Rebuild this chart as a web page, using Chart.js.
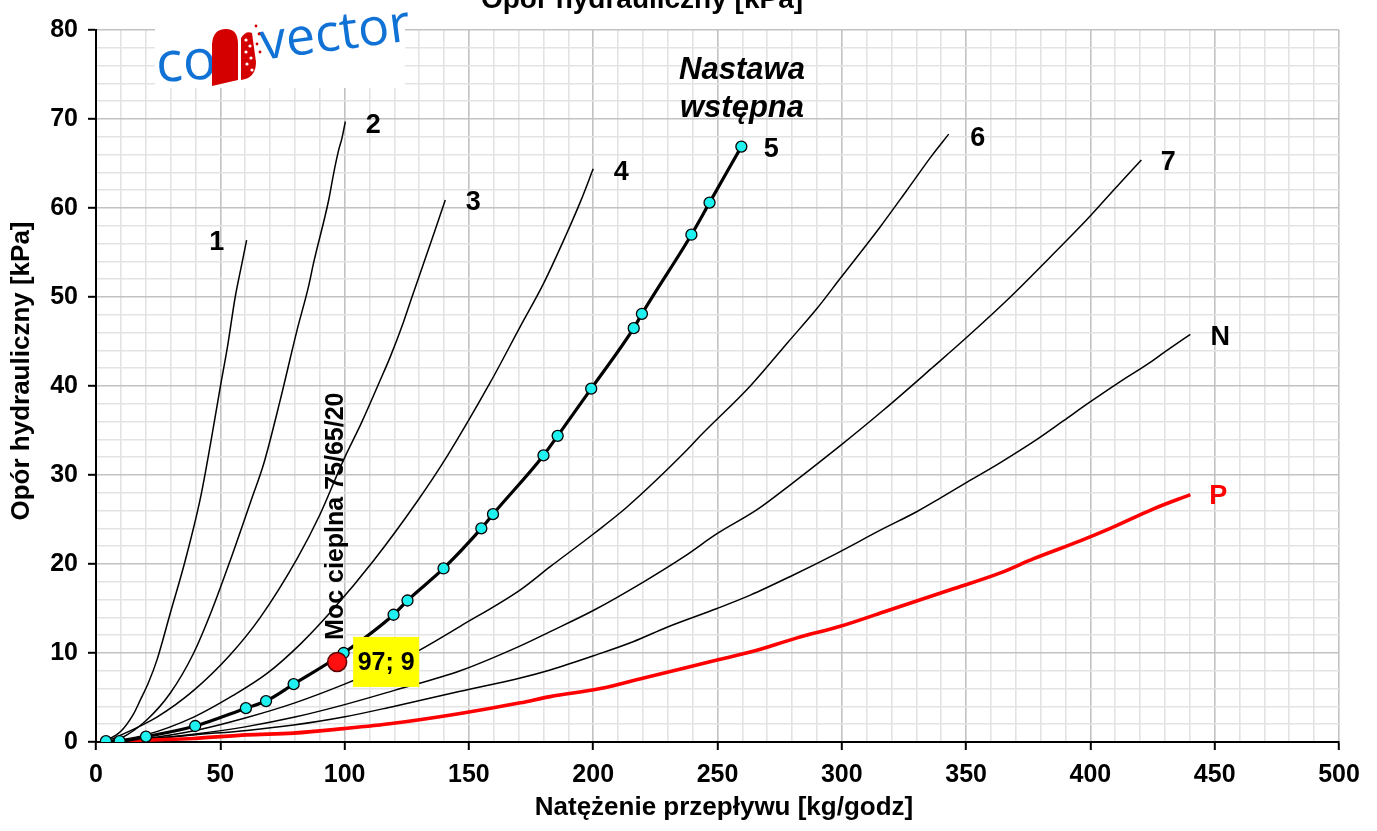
<!DOCTYPE html>
<html>
<head>
<meta charset="utf-8">
<script src="https://cdn.jsdelivr.net/npm/chart.js@4.4.0/dist/chart.umd.min.js"></script>
<style>
  html, body { margin: 0; padding: 0; background: #ffffff; }
  #wrap { width: 1377px; height: 831px; position: relative; }
</style>
</head>
<body>
<div id="wrap"><canvas id="chart" width="1377" height="831"></canvas></div>
<script>
// Valve presetting curves: flow [kg/godz] vs. hydraulic resistance [kPa]
const seriesNames = ['1', '2', '3', '4', '5', '6', '7', 'N', 'P'];

const flow1 = [3, 10, 15, 17.8, 21, 24.5, 29.9, 35.9, 42, 46, 50, 53, 56, 58.5, 60.6];
const dp1   = [0, 1.2, 3.1, 4.7, 6.6, 9.2, 14.5, 20.4, 27.4, 33.4, 39.9, 44.6, 50.0, 53.5, 56.4];

const flow2 = [4, 9.8, 20.5, 29.9, 39.3, 46.6, 54, 62.7, 67.4, 74, 80.8, 85.5, 87.5, 93.6, 95.6, 97.6, 98.9, 100.3];
const dp2   = [0, 0.4, 2.5, 5.5, 10.0, 14.8, 20.4, 27.4, 31.2, 38.3, 46.2, 51.2, 53.8, 60.9, 63.9, 66.5, 67.8, 69.7];

const flow3 = [4, 24.5, 39.3, 54, 66.1, 80.9, 90, 99.6, 107, 114.4, 118.4, 123.7, 127.1, 131.8, 136, 140.5];
const dp3   = [0, 2.8, 5.8, 9.8, 14.0, 20.6, 25.5, 31.7, 36.0, 40.7, 43.3, 47.2, 50.0, 53.8, 57.2, 60.9];

const flow4 = [4, 20, 39.3, 55, 68.8, 82.2, 95, 111.7, 129.1, 141.2, 158.6, 170.7, 180, 188.8, 195, 200];
const dp4   = [0, 0.8, 2.8, 5.2, 7.7, 11.0, 14.8, 20.4, 27.0, 32.1, 40.4, 46.7, 51.5, 56.8, 60.8, 64.4];

// measured points of the preset curve (drawn with markers)
const flow5 = [4.0, 9.5, 20.1, 39.9, 60.3, 68.4, 79.5, 99.6, 119.7, 125.3, 139.8, 155.0, 159.7, 180.0, 185.7, 199.2, 216.3, 219.6, 239.5, 246.8, 259.6];
const dp5   = [0.1, 0.1, 0.6, 1.8, 3.8, 4.6, 6.5, 10.0, 14.3, 15.9, 19.5, 24.0, 25.6, 32.2, 34.4, 39.7, 46.5, 48.1, 57.0, 60.6, 66.9];

const flow6 = [4, 20, 40, 60, 80, 100, 120, 130, 146.5, 170.7, 182.7, 200.2, 213.6, 237.7, 243.1, 263.2, 278.6, 290, 299.4, 315.5, 326.2, 336, 343];
const dp6   = [0, 0.4, 1.3, 2.7, 4.4, 6.5, 8.9, 10.3, 13.0, 17.1, 19.7, 23.4, 26.4, 32.8, 34.4, 40.0, 45.0, 48.7, 52.1, 57.9, 62.0, 65.8, 68.3];

const flow7 = [4, 20, 40, 60, 80, 100, 120, 146.5, 170.7, 182.7, 200.2, 220.3, 236.4, 249.8, 265.9, 279.3, 299.4, 316.8, 337, 350.4, 367.8, 383.9, 398.6, 409.3, 420.5];
const dp7   = [0, 0.3, 0.9, 1.7, 2.8, 4.2, 5.8, 8.0, 10.8, 12.4, 14.8, 18.0, 20.8, 23.4, 26.1, 28.9, 33.3, 37.3, 42.2, 45.5, 50.0, 54.5, 58.7, 62.0, 65.4];

const flowN = [4, 20, 39.3, 60.7, 79.5, 99.6, 119.7, 146.5, 170.7, 182.7, 200.2, 216.3, 229.7, 249.8, 263.2, 279.3, 298, 315.5, 330.3, 339.6, 350.4, 363.8, 378.5, 389.2, 399.3, 412, 422.7, 430.8, 440.2];
const dpN   = [0, 0.3, 0.8, 1.3, 1.9, 2.8, 4.0, 5.7, 7.2, 8.1, 9.7, 11.3, 12.9, 15.0, 16.5, 18.6, 21.2, 23.8, 25.9, 27.4, 29.2, 31.4, 34.0, 36.1, 38.1, 40.5, 42.4, 44.0, 45.8];

const flowP = [4, 19.1, 39.3, 60.7, 79.5, 99.6, 119.7, 146.5, 170.7, 182.7, 202.9, 220.3, 236.4, 249.8, 263.2, 282, 299.4, 316.8, 343.7, 363.8, 377.2, 395.9, 408, 425.4, 440.2];
const dpP   = [0, 0.2, 0.4, 0.8, 1.0, 1.5, 2.1, 3.2, 4.4, 5.1, 6.0, 7.2, 8.3, 9.2, 10.1, 11.7, 13.0, 14.6, 17.1, 19.0, 20.6, 22.6, 24.0, 26.2, 27.8];

// design operating point (heat output 75/65/20)
const designFlow = [97];
const designDp   = [9];

const xTickStep = 10, xMajor = 50, xMax = 500;
const yTickStep = 2,  yMajor = 10, yMax = 80;

const flows = [flow1, flow2, flow3, flow4, flow5, flow6, flow7, flowN, flowP];
const dps   = [dp1, dp2, dp3, dp4, dp5, dp6, dp7, dpN, dpP];

const zip = (xs, ys) => xs.map((x, i) => ({ x: x, y: ys[i] }));

const FONT = '"Liberation Sans", Arial, Helvetica, sans-serif';

const curveStyle = {
  '5': { borderColor: '#000000', borderWidth: 3.2, pointRadius: 5.5, pointBackgroundColor: '#1ff0f0', pointBorderColor: '#000000', pointBorderWidth: 1.3, order: -1 },
  'P': { borderColor: '#ff0000', borderWidth: 3.6, pointRadius: 0, order: 0 }
};
const thinStyle = { borderColor: '#000000', borderWidth: 1.5, pointRadius: 0, order: 1 };

const datasets = seriesNames.map((name, i) => Object.assign({
  label: name,
  data: zip(flows[i], dps[i]),
  showLine: true,
  fill: false,
  cubicInterpolationMode: 'monotone',
  pointHoverRadius: 0
}, thinStyle, curveStyle[name] || {}));

datasets.push({
  label: 'design',
  data: zip(designFlow, designDp),
  showLine: false,
  pointRadius: 9.5,
  pointBackgroundColor: '#ff1010',
  pointBorderColor: '#5a0000',
  pointBorderWidth: 1.5,
  order: -2
});

// end-of-curve label placement (px offsets from the last point)
const labelDx = [-30, 28, 28, 28, 30, 29, 27, 30, 28];
const labelDy = [3, 4, 3, 4, 3, 4, 3, 3, 2];

const annotations = {
  id: 'annotations',
  beforeDraw(chart) {
    const c = chart.ctx;
    c.save();
    c.fillStyle = '#ffffff';
    c.fillRect(0, 0, chart.width, chart.height);
    c.restore();
  },
  afterDatasetsDraw(chart) {
    const c = chart.ctx;
    const xs = chart.scales.x, ys = chart.scales.y;
    c.save();
    // curve names
    c.font = 'bold 27px ' + FONT;
    c.textAlign = 'center';
    c.textBaseline = 'middle';
    seriesNames.forEach((name, i) => {
      const meta = chart.getDatasetMeta(i);
      const last = meta.data[meta.data.length - 1];
      c.fillStyle = name === 'P' ? '#ff0000' : '#000000';
      c.fillText(name, last.x + labelDx[i], last.y + labelDy[i]);
    });

    // design point value box
    const px = xs.getPixelForValue(designFlow[0]);
    const py = ys.getPixelForValue(designDp[0]);
    c.fillStyle = '#ffff00';
    c.fillRect(px + 16, py - 25, 66, 50);
    c.fillStyle = '#000000';
    c.font = 'bold 25px ' + FONT;
    c.fillText(designFlow[0] + '; ' + designDp[0], px + 49, py + 1);

    // rotated caption above the design point
    c.save();
    c.translate(px - 1, py - 22);
    c.rotate(-Math.PI / 2);
    c.textAlign = 'left';
    c.textBaseline = 'middle';
    c.font = 'bold 25px ' + FONT;
    c.fillText('Moc cieplna 75/65/20', 0, 0);
    c.restore();

    // preset caption
    c.font = 'italic bold 31px ' + FONT;
    c.textAlign = 'center';
    c.textBaseline = 'alphabetic';
    c.fillText('Nastawa', 742, 79);
    c.fillText('wstępna', 742, 117);
    c.restore();
  },
  afterDraw(chart) {
    const c = chart.ctx;
    c.save();
    // chart title, partly above the canvas edge
    c.fillStyle = '#000000';
    c.font = 'bold 28px ' + FONT;
    c.textAlign = 'center';
    c.textBaseline = 'alphabetic';
    c.fillText('Opór hydrauliczny [kPa]', 642, 8);

    // axis titles
    c.font = 'bold 26px ' + FONT;
    c.textBaseline = 'middle';
    c.fillText('Natężenie przepływu [kg/godz]', 724, 808);
    c.save();
    c.translate(22, 371);
    c.rotate(-Math.PI / 2);
    c.font = 'bold 26px ' + FONT;
    c.fillText('Opór hydrauliczny [kPa]', 0, 0);
    c.restore();

    // brand logo panel
    c.fillStyle = '#ffffff';
    c.fillRect(155, 0, 250, 88);
    c.fillStyle = '#1172d6';
    c.save();
    c.translate(157, 82);
    c.rotate(-0.06);
    c.font = '56px "Open Sans", Lato, sans-serif';
    c.textAlign = 'left';
    c.fillText('co', 0, -16);
    c.restore();
    c.save();
    c.translate(262, 58);
    c.rotate(-0.13);
    c.font = '52px "Open Sans", Lato, sans-serif';
    c.textAlign = 'left';
    c.fillText('vector', 0, -13);
    c.restore();
    // red radiator mark
    c.fillStyle = '#d40000';
    c.beginPath();
    c.moveTo(212, 86); c.lineTo(212, 44);
    c.quadraticCurveTo(213, 29, 226, 29);
    c.quadraticCurveTo(238, 29, 238, 44);
    c.lineTo(238, 80); c.closePath(); c.fill();
    c.beginPath();
    c.moveTo(241, 80); c.lineTo(241, 38);
    c.quadraticCurveTo(246, 30, 252, 33);
    c.lineTo(256, 62);
    c.quadraticCurveTo(256, 78, 241, 80); c.fill();
    c.fillStyle = '#ffffff';
    [[246, 40], [250, 46], [246, 52], [251, 58], [247, 64], [252, 70]].forEach(p => {
      c.beginPath(); c.arc(p[0], p[1], 1.6, 0, Math.PI * 2); c.fill();
    });
    c.fillStyle = '#d40000';
    [[256, 26], [259, 34], [257, 44], [260, 52]].forEach(p => {
      c.beginPath(); c.arc(p[0], p[1], 1.4, 0, Math.PI * 2); c.fill();
    });
    c.restore();
  }
};

const isMajor = (ctx, step) => ctx.tick && Math.abs(ctx.tick.value % step) < 1e-6;

new Chart(document.getElementById('chart'), {
  type: 'line',
  data: { datasets: datasets },
  options: {
    responsive: false,
    animation: false,
    events: [],
    layout: { padding: { left: 0, right: 38, top: 30, bottom: 0 } },
    plugins: { legend: { display: false }, tooltip: { enabled: false }, title: { display: false } },
    scales: {
      x: {
        type: 'linear',
        min: 0, max: xMax,
        afterFit: s => { s.height = 89; },
        ticks: {
          stepSize: xTickStep, autoSkip: false, maxRotation: 0, padding: 10,
          color: '#000000', font: { family: FONT, size: 25, weight: 'bold' },
          callback: v => (v % xMajor === 0 ? String(v) : '')
        },
        grid: {
          color: ctx => isMajor(ctx, xMajor) ? '#c2c2c2' : '#e3e3e3',
          lineWidth: 1.6,
          tickLength: 8,
          tickWidth: 2,
          tickColor: ctx => isMajor(ctx, xMajor) ? '#000000' : 'rgba(0,0,0,0)'
        },
        border: { display: true, color: '#000000', width: 2 }
      },
      y: {
        type: 'linear',
        min: 0, max: yMax,
        afterFit: s => { s.width = 96; },
        ticks: {
          stepSize: yTickStep, autoSkip: false, padding: 10,
          color: '#000000', font: { family: FONT, size: 25, weight: 'bold' },
          callback: v => (v % yMajor === 0 ? String(v) : '')
        },
        grid: {
          color: ctx => isMajor(ctx, yMajor) ? '#c2c2c2' : '#e3e3e3',
          lineWidth: 1.6,
          tickLength: 8,
          tickWidth: 2,
          tickColor: ctx => isMajor(ctx, yMajor) ? '#000000' : 'rgba(0,0,0,0)'
        },
        border: { display: true, color: '#000000', width: 2 }
      }
    }
  },
  plugins: [annotations]
});
</script>
</body>
</html>
